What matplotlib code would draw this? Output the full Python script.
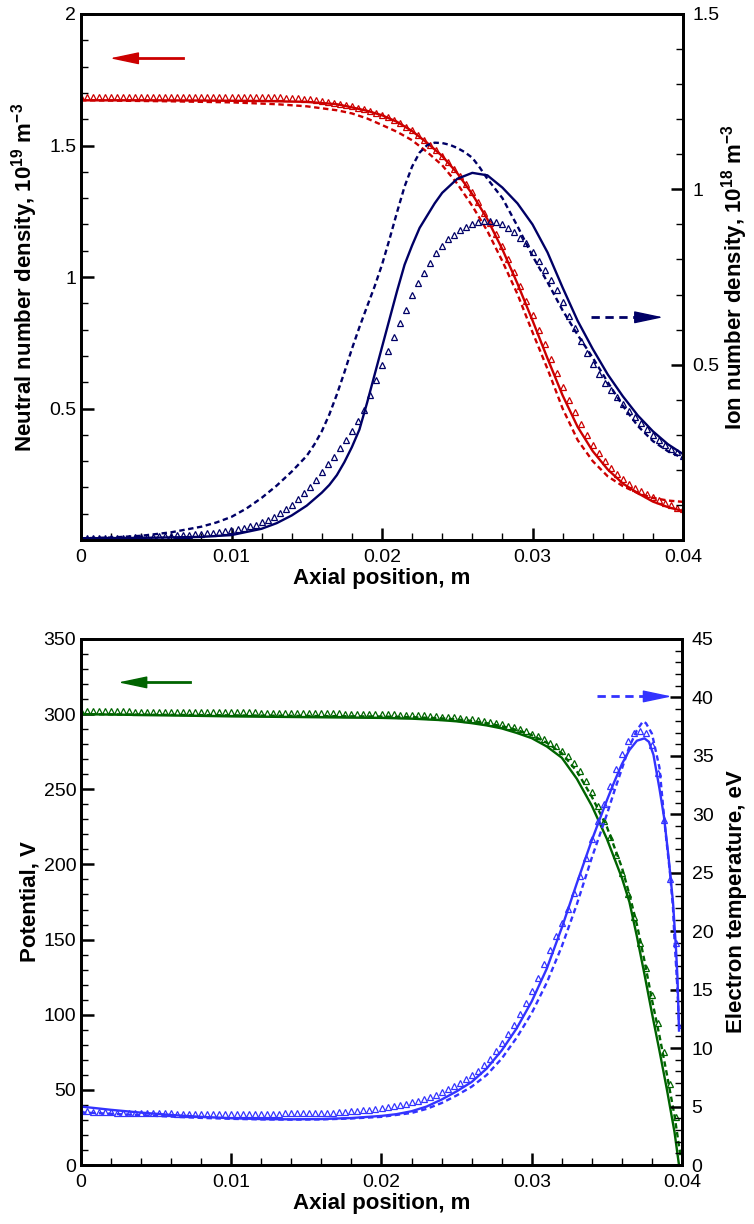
import numpy as np
import matplotlib
matplotlib.use('Agg')
import matplotlib.pyplot as plt
from matplotlib.ticker import MultipleLocator, FixedLocator, FuncFormatter

plt.rcParams['font.family'] = ['Liberation Sans', 'DejaVu Sans']
plt.rcParams['mathtext.fontset'] = 'custom'
plt.rcParams['mathtext.rm'] = 'Liberation Sans'
plt.rcParams['mathtext.bf'] = 'Liberation Sans:bold'

RED = '#cc0000'
NAVY = '#000066'
GREEN = '#006400'
BLUE = '#3333ff'

# ---------------- top panel (x in mm) ----------------
# neutral number density, 1e19 m^-3 (left axis)
red_solid_x = [0, 4, 8, 12, 15, 17, 18, 19, 20, 21, 22, 23, 24, 25, 26, 27, 28, 29,
               30, 31, 32, 33, 34, 35, 36, 37, 38, 39, 40]
red_solid = [1.672, 1.672, 1.671, 1.669, 1.666, 1.657, 1.645, 1.632, 1.615, 1.590,
             1.555, 1.510, 1.460, 1.395, 1.315, 1.220, 1.105, 0.975, 0.835, 0.690,
             0.550, 0.430, 0.338, 0.268, 0.215, 0.178, 0.146, 0.125, 0.110]
red_dash_x = [0, 6, 10, 13, 15, 17, 18, 19, 20, 21, 22, 23, 24, 25, 26, 27, 28, 29,
              30, 31, 32, 33, 34, 35, 36, 37, 38, 39, 40]
red_dash = [1.672, 1.668, 1.664, 1.657, 1.649, 1.634, 1.622, 1.603, 1.578, 1.552,
            1.520, 1.475, 1.425, 1.355, 1.270, 1.175, 1.060, 0.935, 0.790, 0.650,
            0.500, 0.380, 0.300, 0.242, 0.205, 0.178, 0.160, 0.150, 0.145]

# ion number density, 1e18 m^-3 (right axis)
navy_solid_x = [0, 4, 8, 10, 12, 13, 14, 15, 16, 16.5, 17, 17.5, 18, 18.5, 19, 19.5,
                20, 20.5, 21, 21.5, 22, 22.5, 23, 23.5, 24, 25, 26, 27, 28, 29, 30,
                31, 32, 33, 34, 35, 36, 37, 38, 39, 40]
navy_solid = [0.005, 0.006, 0.009, 0.014, 0.032, 0.048, 0.070, 0.098, 0.135, 0.157,
              0.185, 0.222, 0.265, 0.315, 0.390, 0.470, 0.550, 0.630, 0.710, 0.785,
              0.840, 0.890, 0.925, 0.960, 0.990, 1.030, 1.047, 1.040, 1.005, 0.960,
              0.900, 0.820, 0.720, 0.625, 0.545, 0.472, 0.410, 0.355, 0.310, 0.273, 0.245]
navy_dash_x = [0, 2, 4, 6, 8, 9, 10, 11, 12, 13, 14, 15, 15.5, 16, 16.5, 17, 17.5, 18,
               18.5, 19, 19.5, 20, 20.5, 21, 21.5, 22, 22.5, 23, 23.5, 24, 24.5, 25,
               25.5, 26, 26.5, 27, 28, 29, 30, 31, 32, 33, 34, 35, 36, 37, 38, 39, 40]
navy_dash = [0.005, 0.007, 0.012, 0.022, 0.038, 0.050, 0.066, 0.090, 0.120, 0.155,
             0.195, 0.240, 0.272, 0.310, 0.358, 0.415, 0.478, 0.545, 0.607, 0.665,
             0.722, 0.785, 0.858, 0.935, 1.008, 1.065, 1.105, 1.126, 1.133, 1.132,
             1.127, 1.118, 1.106, 1.090, 1.062, 1.030, 0.975, 0.895, 0.810, 0.735,
             0.655, 0.585, 0.520, 0.450, 0.383, 0.325, 0.282, 0.253, 0.234]

# triangle markers, every 0.4 mm
marker_x = np.linspace(0, 0.04, 101)
red_tri = [1.686, 1.686, 1.686, 1.686, 1.686, 1.686, 1.686, 1.686, 1.686, 1.686,
           1.686, 1.686, 1.686, 1.686, 1.686, 1.686, 1.686, 1.686, 1.686, 1.686,
           1.686, 1.686, 1.686, 1.686, 1.686, 1.686, 1.686, 1.686, 1.686, 1.686,
           1.686, 1.685, 1.684, 1.683, 1.682, 1.681, 1.679, 1.677, 1.675, 1.672,
           1.669, 1.666, 1.662, 1.658, 1.654, 1.649, 1.644, 1.638, 1.632, 1.625,
           1.617, 1.608, 1.597, 1.585, 1.572, 1.558, 1.541, 1.522, 1.502, 1.482,
           1.460, 1.436, 1.410, 1.383, 1.353, 1.322, 1.285, 1.245, 1.205, 1.162,
           1.118, 1.070, 1.018, 0.965, 0.910, 0.855, 0.800, 0.745, 0.690, 0.635,
           0.582, 0.532, 0.485, 0.440, 0.400, 0.362, 0.330, 0.300, 0.275, 0.252,
           0.232, 0.214, 0.199, 0.186, 0.174, 0.162, 0.151, 0.141, 0.132, 0.123,
           0.116]
navy_tri = [0.006, 0.006, 0.006, 0.006, 0.006, 0.006, 0.007, 0.007, 0.007, 0.008,
            0.008, 0.009, 0.009, 0.010, 0.011, 0.012, 0.013, 0.014, 0.015, 0.016,
            0.018, 0.019, 0.021, 0.023, 0.026, 0.028, 0.031, 0.035, 0.039, 0.044,
            0.050, 0.057, 0.066, 0.076, 0.088, 0.101, 0.116, 0.133, 0.152, 0.172,
            0.194, 0.216, 0.238, 0.261, 0.286, 0.312, 0.340, 0.372, 0.413, 0.456,
            0.499, 0.540, 0.580, 0.619, 0.656, 0.698, 0.732, 0.762, 0.790, 0.818,
            0.839, 0.857, 0.871, 0.883, 0.894, 0.902, 0.907, 0.909, 0.910, 0.907,
            0.900, 0.890, 0.878, 0.862, 0.846, 0.822, 0.797, 0.770, 0.742, 0.713,
            0.678, 0.640, 0.604, 0.568, 0.533, 0.502, 0.474, 0.449, 0.427, 0.407,
            0.388, 0.368, 0.350, 0.333, 0.317, 0.300, 0.285, 0.272, 0.260, 0.250,
            0.240]

# ---------------- bottom panel (x in mm) ----------------
# potential, V (left axis)
green_solid_x = [0, 5, 10, 15, 20, 22, 24, 25, 26, 27, 28, 29, 30, 31, 32, 33, 34, 35,
                 36, 36.5, 37, 37.5, 38, 38.5, 39, 39.5, 39.8]
green_solid = [300, 299.3, 298.5, 298, 297.5, 297, 296, 295.2, 294, 292.5, 290.5,
               287.5, 284, 278.5, 271, 257, 239, 217, 191, 175, 152, 127, 101, 76,
               50, 22, 0]
green_dash_x = [0, 5, 10, 15, 20, 22, 24, 25, 26, 27, 28, 29, 30, 31, 32, 33, 34, 35,
                36, 36.5, 37, 37.5, 38, 38.5, 39, 39.5, 39.9]
green_dash = [300, 299.6, 299.2, 298.8, 298.4, 298, 297.2, 296.5, 295.5, 294, 292,
              289.5, 286, 281, 274, 262, 245, 225, 198, 180, 160, 136, 110, 86, 60,
              33, 6]

# electron temperature, eV (right axis)
blue_solid_x = [0, 2, 4, 6, 8, 10, 12, 14, 16, 18, 20, 21, 22, 23, 24, 25, 26, 27,
                28, 29, 30, 31, 32, 33, 34, 35, 35.5, 36, 36.5, 37, 37.5, 37.8, 38.1,
                38.5, 38.8, 39.1, 39.4, 39.6, 39.7, 39.8]
blue_solid = [5.0, 4.72, 4.48, 4.28, 4.12, 4.0, 3.93, 3.91, 3.93, 4.02, 4.2, 4.35,
              4.6, 5.0, 5.6, 6.3, 7.1, 8.25, 9.8, 11.7, 14.0, 16.8, 20.3, 24.1, 27.8,
              31.2, 32.8, 34.3, 35.5, 36.3, 36.5, 36.2, 35.1, 32.2, 29.8, 26.4, 22.5,
              18.5, 16.0, 11.5]
blue_dash_x = [0, 2, 4, 6, 8, 10, 12, 14, 16, 18, 20, 22, 23, 24, 25, 26, 27, 28, 29,
               30, 31, 32, 33, 34, 35, 35.5, 36, 36.5, 37, 37.4, 37.6, 38.0, 38.5,
               38.9, 39.2, 39.4, 39.5, 39.7, 39.8]
blue_dash = [4.5, 4.38, 4.26, 4.14, 4.03, 3.95, 3.9, 3.88, 3.9, 3.98, 4.12, 4.45,
             4.8, 5.3, 5.95, 6.7, 7.7, 9.1, 10.9, 13.0, 15.6, 18.7, 22.3, 26.3, 30.0,
             32.0, 33.9, 35.8, 37.2, 37.95, 37.8, 36.9, 34.0, 28.5, 25.0, 22.0, 19.3,
             15.0, 12.0]

green_tri = [302.0, 302.0, 302.0, 301.9, 301.9, 301.9, 301.8, 301.8, 301.8, 301.7,
             301.7, 301.7, 301.6, 301.6, 301.6, 301.5, 301.5, 301.5, 301.4, 301.4,
             301.4, 301.3, 301.3, 301.3, 301.2, 301.2, 301.2, 301.1, 301.1, 301.1,
             301.0, 301.0, 301.0, 300.9, 300.9, 300.9, 300.8, 300.8, 300.7, 300.7,
             300.6, 300.6, 300.5, 300.5, 300.4, 300.4, 300.3, 300.3, 300.2, 300.1,
             300.0, 299.9, 299.8, 299.7, 299.6, 299.5, 299.3, 299.1, 298.9, 298.7,
             298.4, 298.1, 297.8, 297.4, 297.0, 296.5, 296.0, 295.4, 294.7, 294.0,
             293.2, 292.3, 291.2, 290.0, 288.6, 287.0, 285.2, 283.2, 281.0, 278.5,
             275.5, 272.0, 267.5, 262.0, 255.5, 248.0, 239.0, 229.0, 218.0, 206.0,
             194.0, 180.0, 165.0, 148.0, 131.0, 113.0, 94.5, 75.0, 54.0, 32.0,
             10.0]
blue_tri = [4.60, 4.58, 4.56, 4.54, 4.52, 4.50, 4.48, 4.46, 4.45, 4.44,
            4.43, 4.42, 4.42, 4.41, 4.41, 4.41, 4.40, 4.40, 4.40, 4.40,
            4.40, 4.40, 4.40, 4.40, 4.40, 4.40, 4.40, 4.40, 4.40, 4.40,
            4.40, 4.40, 4.40, 4.40, 4.41, 4.41, 4.42, 4.42, 4.43, 4.44,
            4.45, 4.46, 4.48, 4.51, 4.54, 4.58, 4.62, 4.67, 4.72, 4.79,
            4.86, 4.94, 5.03, 5.13, 5.24, 5.36, 5.49, 5.64, 5.81, 6.00,
            6.22, 6.46, 6.72, 7.00, 7.32, 7.68, 8.08, 8.56, 9.10, 9.75,
            10.45, 11.2, 12.0, 12.9, 13.9, 14.9, 16.0, 17.2, 18.4, 19.6,
            20.7, 21.9, 23.3, 24.7, 26.3, 27.9, 29.4, 30.9, 32.4, 33.9,
            35.2, 36.3, 37.0, 37.15, 37.0, 35.9, 33.5, 29.5, 24.5, 19.0,
            12.0]

LW = 1.7
DASH = (0, (2.3, 1.5))
fmt = FuncFormatter(lambda v, pos: '%g' % v)


def mm(x):
    return np.array(x) / 1000.0


def style(ax, axr):
    for a in (ax, axr):
        for s in a.spines.values():
            s.set_linewidth(2)
    ax.set_xlim(0, 0.04)
    ax.xaxis.set_major_locator(MultipleLocator(0.01))
    ax.xaxis.set_minor_locator(MultipleLocator(0.002))
    ax.xaxis.set_major_formatter(fmt)
    ax.yaxis.set_major_formatter(fmt)
    axr.yaxis.set_major_formatter(fmt)
    ax.tick_params(axis='x', which='major', direction='in', length=9, width=1.8,
                   labelsize=14, pad=6.5)
    ax.tick_params(axis='x', which='minor', direction='in', length=5, width=1)
    ax.tick_params(axis='y', which='major', direction='in', length=9, width=1.8,
                   labelsize=14, pad=3.5)
    ax.tick_params(axis='y', which='minor', direction='in', length=5, width=1)
    axr.tick_params(axis='y', which='major', direction='in', length=9, width=1.8,
                    labelsize=14, pad=7)
    axr.tick_params(axis='y', which='minor', direction='in', length=5, width=1)
    ax.set_xlabel('Axial position, m', fontsize=16, fontweight='bold')
    ax.xaxis.set_label_coords(0.5, -0.053)


def arrow(ax, tail, tip, y, color, dashed=False):
    head = 0.042 if tip > tail else -0.042
    base = tip - head
    ax.plot([tail, base], [y, y], transform=ax.transAxes, color=color, lw=2,
            ls=(0, (3, 2)) if dashed else '-', clip_on=False)
    ax.annotate('', xy=(tip, y), xytext=(base, y), xycoords='axes fraction',
                arrowprops=dict(arrowstyle='-|>,head_length=1.8,head_width=0.38',
                                mutation_scale=10, lw=1, color=color,
                                shrinkA=0, shrinkB=0))


fig = plt.figure(figsize=(7.54, 12.24), dpi=100)
ax1 = fig.add_axes([81 / 754, 1 - 540 / 1224, 602 / 754, 526 / 1224])
ax2 = ax1.twinx()
ax3 = fig.add_axes([81 / 754, 1 - 1165 / 1224, 601 / 754, 526 / 1224])
ax4 = ax3.twinx()

# top panel
tri = dict(marker='^', ms=4.3, mfc='none', mew=0.9, ls='none')
ax1.plot(marker_x, red_tri, color=RED, **tri)
ax1.plot(mm(red_dash_x), red_dash, color=RED, lw=LW, ls=DASH)
ax1.plot(mm(red_solid_x), red_solid, color=RED, lw=LW)
ax2.plot(marker_x, navy_tri, color=NAVY, **tri)
ax2.plot(mm(navy_dash_x), navy_dash, color=NAVY, lw=LW, ls=DASH)
ax2.plot(mm(navy_solid_x), navy_solid, color=NAVY, lw=LW)

style(ax1, ax2)
ax1.set_ylim(0, 2)
ax1.yaxis.set_major_locator(FixedLocator([0.5, 1, 1.5, 2]))
ax1.yaxis.set_minor_locator(MultipleLocator(0.1))
ax2.set_ylim(0, 1.5)
ax2.yaxis.set_major_locator(FixedLocator([0.5, 1, 1.5]))
ax2.yaxis.set_minor_locator(MultipleLocator(0.1))
ax1.set_ylabel('Neutral number density, 10$^{\\mathbf{19}}$ m$^{\\mathbf{-3}}$',
               fontsize=16, fontweight='bold')
ax1.yaxis.set_label_coords(-0.068, 0.5)
ax2.set_ylabel('Ion number density, 10$^{\\mathbf{18}}$ m$^{\\mathbf{-3}}$',
               fontsize=16, fontweight='bold')
ax2.yaxis.set_label_coords(1.060, 0.5)
arrow(ax1, 0.1694, 0.0482, 0.9158, RED)
arrow(ax2, 0.848, 0.967, 0.4234, NAVY, dashed=True)

# bottom panel
ax3.plot(marker_x, green_tri, color=GREEN, **tri)
ax3.plot(mm(green_dash_x), green_dash, color=GREEN, lw=LW, ls=DASH)
ax3.plot(mm(green_solid_x), green_solid, color=GREEN, lw=LW)
ax4.plot(marker_x, blue_tri, color=BLUE, **tri)
ax4.plot(mm(blue_dash_x), blue_dash, color=BLUE, lw=LW, ls=DASH)
ax4.plot(mm(blue_solid_x), blue_solid, color=BLUE, lw=LW)

style(ax3, ax4)
ax3.set_ylim(0, 350)
ax3.yaxis.set_major_locator(MultipleLocator(50))
ax3.yaxis.set_minor_locator(MultipleLocator(10))
ax4.set_ylim(0, 45)
ax4.yaxis.set_major_locator(MultipleLocator(5))
ax4.yaxis.set_minor_locator(MultipleLocator(1))
ax3.set_ylabel('Potential, V', fontsize=16, fontweight='bold')
ax3.yaxis.set_label_coords(-0.068, 0.5)
ax4.set_ylabel('Electron temperature, eV', fontsize=16, fontweight='bold')
ax4.yaxis.set_label_coords(1.074, 0.5)
arrow(ax3, 0.1814, 0.0621, 0.9175, GREEN)
arrow(ax4, 0.858, 0.983, 0.8908, BLUE, dashed=True)

fig.savefig('out.png', dpi=100, facecolor='white')
